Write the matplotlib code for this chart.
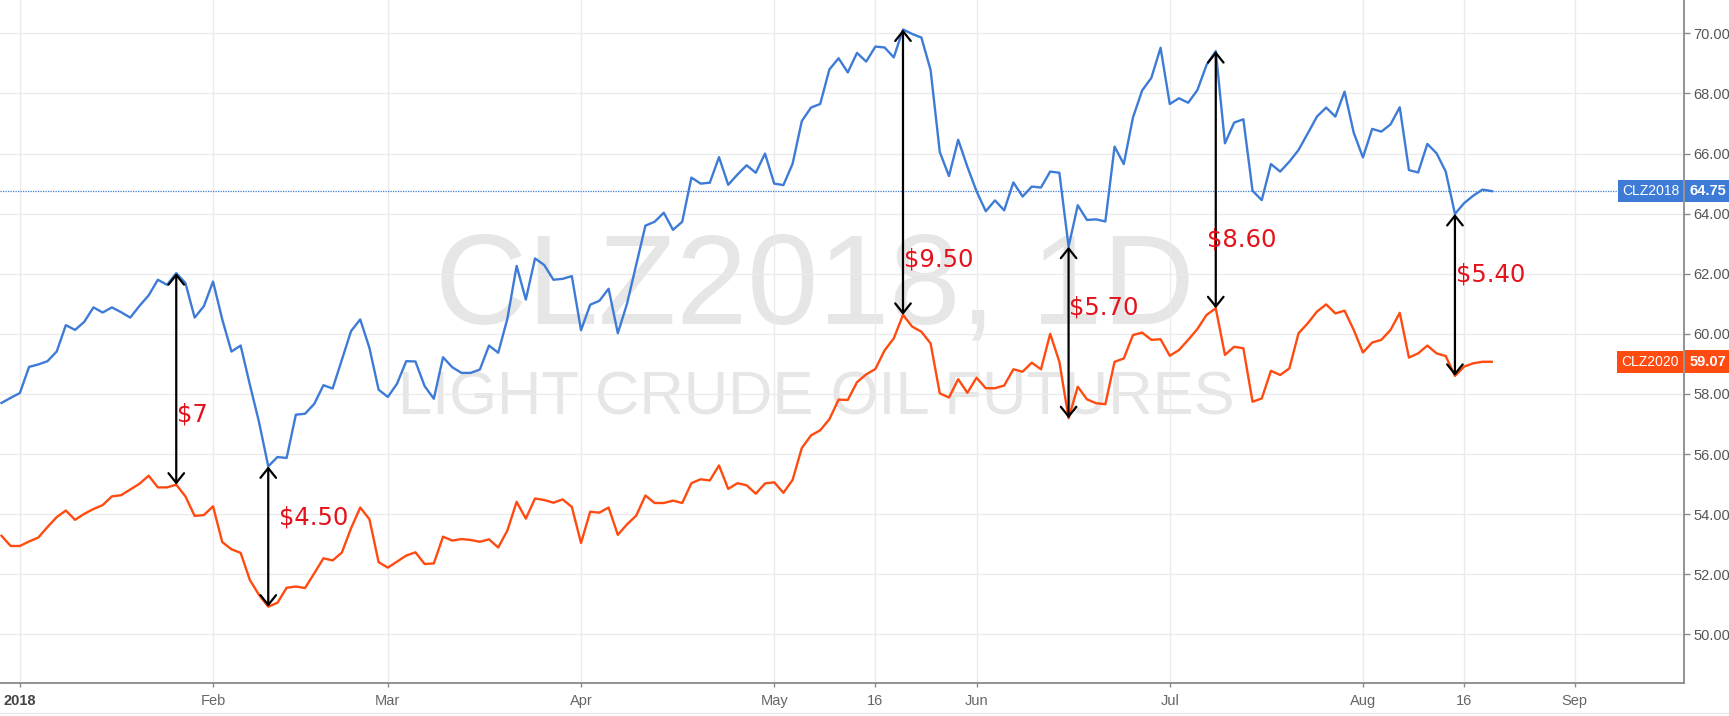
import numpy as np
import matplotlib
matplotlib.use("Agg")
import matplotlib.pyplot as plt
from matplotlib.transforms import blended_transform_factory
from matplotlib.lines import Line2D

# x is the trading-day index, 0 = 2 Jan 2018 (weekends and holidays skipped)
days = np.arange(-2, 161)

clz2018 = [
    57.70, 57.87, 58.03, 58.90, 58.98, 59.09, 59.41, 60.29, 60.13, 60.40,
    60.88, 60.71, 60.88, 60.72, 60.54, 60.93, 61.28, 61.80, 61.63, 62.02,
    61.69, 60.54, 60.92, 61.74, 60.48, 59.41, 59.61, 58.31, 57.06, 55.59,
    55.90, 55.87, 57.31, 57.34, 57.67, 58.29, 58.18, 59.14, 60.09, 60.48,
    59.53, 58.14, 57.90, 58.34, 59.09, 59.08, 58.26, 57.84, 59.22, 58.89,
    58.70, 58.70, 58.81, 59.61, 59.37, 60.51, 62.26, 61.14, 62.51, 62.29,
    61.80, 61.83, 61.92, 60.12, 60.97, 61.10, 61.50, 60.02, 61.00, 62.30,
    63.60, 63.73, 64.03, 63.46, 63.73, 65.20, 65.00, 65.03, 65.88, 64.96,
    65.30, 65.61, 65.36, 66.00, 65.00, 64.95, 65.66, 67.08, 67.53, 67.65,
    68.80, 69.17, 68.70, 69.35, 69.06, 69.56, 69.53, 69.20, 70.13, 69.98,
    69.86, 68.78, 66.05, 65.25, 66.46, 65.56, 64.74, 64.08, 64.44, 64.11,
    65.04, 64.57, 64.90, 64.87, 65.40, 65.36, 62.90, 64.28, 63.79, 63.81,
    63.74, 66.23, 65.65, 67.20, 68.10, 68.52, 69.52, 67.65, 67.84, 67.69,
    68.11, 68.95, 69.41, 66.34, 67.03, 67.14, 64.76, 64.45, 65.65, 65.40,
    65.73, 66.12, 66.67, 67.23, 67.53, 67.23, 68.06, 66.69, 65.87, 66.82,
    66.73, 66.97, 67.54, 65.45, 65.37, 66.32, 66.01, 65.40, 63.99, 64.35,
    64.60, 64.80, 64.75,
]

clz2020 = [
    53.28, 52.94, 52.94, 53.09, 53.22, 53.57, 53.90, 54.12, 53.81, 54.01,
    54.17, 54.30, 54.59, 54.63, 54.82, 55.01, 55.28, 54.89, 54.89, 54.98,
    54.59, 53.94, 53.97, 54.26, 53.07, 52.83, 52.71, 51.81, 51.31, 50.92,
    51.05, 51.55, 51.59, 51.54, 52.03, 52.53, 52.46, 52.72, 53.53, 54.22,
    53.83, 52.40, 52.22, 52.42, 52.62, 52.73, 52.34, 52.36, 53.25, 53.12,
    53.17, 53.14, 53.08, 53.16, 52.89, 53.46, 54.41, 53.85, 54.52, 54.47,
    54.38, 54.49, 54.24, 53.04, 54.08, 54.05, 54.22, 53.31, 53.66, 53.95,
    54.62, 54.37, 54.37, 54.45, 54.37, 55.03, 55.16, 55.12, 55.62, 54.84,
    55.03, 54.96, 54.68, 55.02, 55.06, 54.71, 55.14, 56.20, 56.62, 56.79,
    57.16, 57.81, 57.80, 58.39, 58.65, 58.83, 59.45, 59.85, 60.63, 60.24,
    60.07, 59.68, 58.02, 57.88, 58.49, 58.04, 58.54, 58.19, 58.19, 58.28,
    58.82, 58.74, 59.04, 58.82, 60.00, 59.07, 57.19, 58.24, 57.82, 57.69,
    57.66, 59.07, 59.18, 59.96, 60.04, 59.80, 59.82, 59.27, 59.46, 59.80,
    60.16, 60.63, 60.85, 59.30, 59.57, 59.52, 57.74, 57.85, 58.77, 58.63,
    58.85, 60.02, 60.35, 60.74, 60.98, 60.68, 60.77, 60.13, 59.38, 59.71,
    59.80, 60.13, 60.70, 59.21, 59.35, 59.61, 59.35, 59.26, 58.60, 58.91,
    59.02, 59.07, 59.07,
]

tick_pos = [0, 21, 40, 61, 82, 93, 104, 125, 146, 157, 169]
tick_labels = ["2018", "Feb", "Mar", "Apr", "May", "16", "Jun", "Jul", "Aug", "16", "Sep"]
y_ticks = list(range(50, 71, 2))

spread_days = [17, 27, 96, 114, 130, 156]
spread_labels = ["$7", "$4.50", "$9.50", "$5.70", "$8.60", "$5.40"]
label_pos = [(17.1, 57.33), (28.2, 53.9), (96.1, 62.47), (114.0, 60.89), (129.0, 63.14), (156.1, 61.96)]

blue = "#3d7bd6"
orange = "#ff4a10"
red = "#e3121b"
ui_font = "Liberation Sans"

fig = plt.figure(figsize=(17.29, 7.16), dpi=100)
ax = fig.add_axes([0, 1 - 683 / 716, 1684 / 1729, 683 / 716])
ax.set_xlim(-2.16, 180.9)
ax.set_ylim(48.38, 71.11)

# watermark
ax.text(86.4, 60.36, "CLZ2018, 1D", fontsize=92, family=ui_font, color="#e6e6e6",
        ha="center", va="baseline", zorder=0)
ax.text(86.6, 57.33, "LIGHT CRUDE OIL FUTURES", fontsize=44.3, family=ui_font, color="#e6e6e6",
        ha="center", va="baseline", zorder=0)

ax.plot(days, clz2018, color=blue, lw=1.7, zorder=3)
ax.plot(days, clz2020, color=orange, lw=1.7, zorder=3)
ax.axhline(clz2018[-1], color=blue, lw=0.9, ls=(0, (1, 1)), zorder=2)

# spread arrows
lookup = {d: i for i, d in enumerate(days)}
for d, lab, (tx, ty) in zip(spread_days, spread_labels, label_pos):
    i = lookup[d]
    ax.annotate("", xy=(d, clz2020[i]), xytext=(d, clz2018[i]),
                arrowprops=dict(arrowstyle="<->,head_length=0.5,head_width=0.4",
                                color="black", lw=1.6, shrinkA=0, shrinkB=0,
                                mutation_scale=14), zorder=4)
    ax.text(tx, ty, lab, color=red, fontsize=17.5, family="DejaVu Sans",
            ha="left", va="center", parse_math=False, zorder=5)

# axes styling
for side in ["top", "left"]:
    ax.spines[side].set_visible(False)
for side in ["bottom", "right"]:
    ax.spines[side].set_color("#8a8a8a")
    ax.spines[side].set_linewidth(1.3)

ax.yaxis.tick_right()
ax.set_yticks(y_ticks)
ax.set_yticklabels([f"{v:.2f}" for v in y_ticks], family=ui_font)
ax.set_xticks(tick_pos)
ax.set_xticklabels(tick_labels, family=ui_font)
ax.tick_params(axis="y", direction="out", length=4, width=1, color="#8a8a8a",
               labelsize=10.5, labelcolor="#555555", pad=3)
ax.tick_params(axis="x", direction="out", length=3, width=1, color="#8a8a8a",
               labelsize=10.5, labelcolor="#666666", pad=5)
ax.get_xticklabels()[0].set_fontweight("bold")
ax.get_xticklabels()[0].set_color("#444444")
ax.grid(True, color="#ebebeb", lw=1)
ax.set_axisbelow(True)

# last-price tags
tr = blended_transform_factory(ax.transAxes, ax.transData)
for name, vals, col in [("CLZ2018", clz2018, blue), ("CLZ2020", clz2020, orange)]:
    last = vals[-1]
    ax.annotate(name, xy=(1, last), xycoords=tr, xytext=(-3.5, 0), textcoords="offset points",
                ha="right", va="center", color="white", fontsize=10, family=ui_font,
                bbox=dict(boxstyle="square,pad=0.3", fc=col, ec="none"), zorder=6,
                annotation_clip=False)
    ax.annotate(f"{last:.2f}", xy=(1, last), xycoords=tr, xytext=(4, 0), textcoords="offset points",
                ha="left", va="center", color="white", fontsize=10.5, family=ui_font,
                fontweight="bold",
                bbox=dict(boxstyle="square,pad=0.3", fc=col, ec="none"), zorder=6,
                annotation_clip=False)

fig.add_artist(Line2D([0, 1], [0.004, 0.004], transform=fig.transFigure, color="#e8e8e8", lw=1))

fig.savefig("out.png", dpi=100)
